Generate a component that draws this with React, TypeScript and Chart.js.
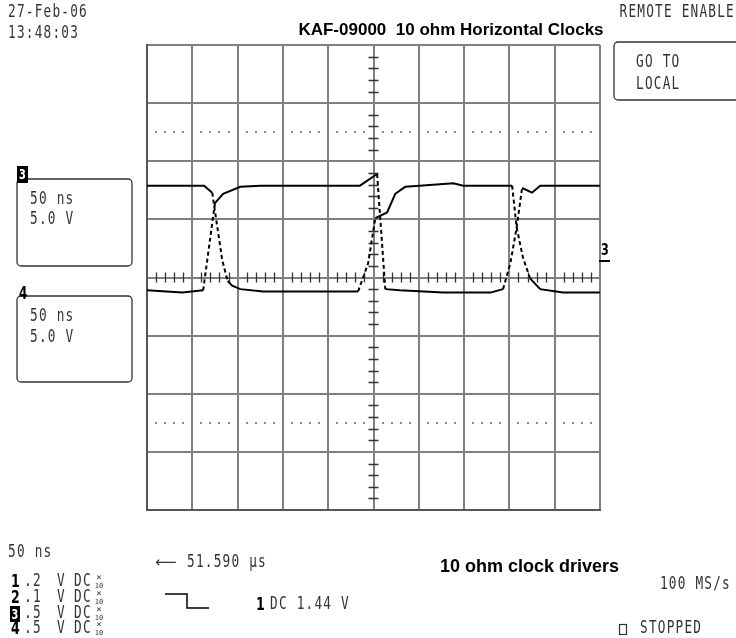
import React, { useEffect, useRef } from "react";
import { Chart, registerables } from "chart.js";

Chart.register(...registerables);

// Channel traces (time in ns relative to screen centre, volts at 5 V/div)
const ch3TimeNs = [-250, -211, -188, -175, -166, -147, -125, -15, 4, 13, 29, 77, 129, 143, 151, 158, 164, 175, 184, 250];
const ch3Volts = [-1.1, -1.3, -1.1, 6.4, 7.2, 7.8, 7.9, 7.9, 8.9, -1.0, -1.1, -1.3, -1.3, -1.0, 1.2, 4.3, 7.7, 7.3, 7.9, 7.9];

const ch4TimeNs = [-250, -187, -178, -167, -161, -156, -147, -122, -17, -6, 2, 15, 24, 35, 51, 88, 99, 153, 158, 165, 173, 184, 209, 250];
const ch4Volts = [7.9, 7.9, 7.3, 1.5, -0.3, -0.7, -1.0, -1.2, -1.2, 1.2, 5.1, 5.6, 7.2, 7.8, 7.9, 8.1, 7.9, 7.9, 4.3, 1.7, -0.1, -1.0, -1.3, -1.3];

const timeRangeNs = [-250, 250];
const timePerDivNs = 50;
const voltRange = [-20, 20];
const voltPerDiv = 5;
const dottedLevelsV = [12.5, -12.5];

const channelRows = [
  { ch: "1", scale: ".2", unit: "V", coupling: "DC" },
  { ch: "2", scale: ".1", unit: "V", coupling: "DC" },
  { ch: "3", scale: ".5", unit: "V", coupling: "DC" },
  { ch: "4", scale: ".5", unit: "V", coupling: "DC" },
];

const toPoints = (xs: number[], ys: number[]) => xs.map((x, i) => ({ x, y: ys[i] }));

function scopeText(ctx: CanvasRenderingContext2D, s: string, x: number, y: number, align: "left" | "right" = "left") {
  ctx.save();
  ctx.font = '17px "DejaVu Sans Mono"';
  (ctx as any).letterSpacing = "1.6px";
  ctx.fillStyle = "#333";
  ctx.textBaseline = "middle";
  ctx.textAlign = "left";
  const sx = 0.75;
  const w = ctx.measureText(s).width * sx;
  const x0 = align === "right" ? x - w : x;
  ctx.translate(x0, y);
  ctx.scale(sx, 1);
  ctx.fillText(s, 0, 0);
  ctx.restore();
}

function boldDigit(ctx: CanvasRenderingContext2D, s: string, x: number, y: number, size = 17) {
  ctx.save();
  ctx.font = `bold ${size}px "DejaVu Sans"`;
  ctx.fillStyle = "#000";
  ctx.textBaseline = "middle";
  ctx.translate(x, y);
  ctx.scale(0.7, 1);
  ctx.fillText(s, 0, 0);
  ctx.restore();
}

function invertedDigit(ctx: CanvasRenderingContext2D, s: string, x: number, y: number, w: number, h: number) {
  ctx.save();
  ctx.fillStyle = "#000";
  ctx.fillRect(x, y, w, h);
  ctx.font = 'bold 14px "DejaVu Sans"';
  ctx.fillStyle = "#fff";
  ctx.textBaseline = "middle";
  ctx.textAlign = "center";
  ctx.translate(x + w / 2, y + h / 2 + 1);
  ctx.scale(0.7, 1);
  ctx.fillText(s, 0, 0);
  ctx.restore();
}

function roundBox(ctx: CanvasRenderingContext2D, x: number, y: number, w: number, h: number) {
  ctx.save();
  ctx.strokeStyle = "#333";
  ctx.lineWidth = 1.3;
  ctx.beginPath();
  (ctx as any).roundRect(x, y, w, h, 4);
  ctx.stroke();
  ctx.restore();
}

function x10(ctx: CanvasRenderingContext2D, x: number, y: number) {
  ctx.save();
  ctx.fillStyle = "#333";
  ctx.textAlign = "center";
  ctx.textBaseline = "middle";
  ctx.font = '9px "DejaVu Sans Mono"';
  ctx.fillText("×", x, y - 4);
  ctx.font = '7px "DejaVu Sans Mono"';
  ctx.fillText("10", x, y + 4);
  ctx.restore();
}

const scopeOverlay = {
  id: "scopeOverlay",
  beforeDatasetsDraw(chart: any) {
    const ctx: CanvasRenderingContext2D = chart.ctx;
    const xs = chart.scales.x;
    const ys = chart.scales.y;
    const cx = xs.getPixelForValue(0);
    const cy = ys.getPixelForValue(0);
    const subX = timePerDivNs / 5;
    const subY = voltPerDiv / 5;
    ctx.save();
    ctx.fillStyle = "#8a8a8a";
    for (const lv of dottedLevelsV) {
      const py = ys.getPixelForValue(lv);
      for (let t = timeRangeNs[0]; t <= timeRangeNs[1]; t += subX) {
        if (Math.abs(t % timePerDivNs) < 1e-6) continue;
        const px = xs.getPixelForValue(t);
        ctx.fillRect(Math.round(px) - 1, Math.round(py) - 1, 2, 2);
      }
    }
    ctx.strokeStyle = "#333";
    ctx.lineWidth = 1.3;
    ctx.beginPath();
    for (let t = timeRangeNs[0]; t <= timeRangeNs[1]; t += subX) {
      if (Math.abs(t % timePerDivNs) < 1e-6) continue;
      const px = Math.round(xs.getPixelForValue(t)) + 0.5;
      ctx.moveTo(px, cy - 5);
      ctx.lineTo(px, cy + 5);
    }
    for (let v = voltRange[0]; v <= voltRange[1]; v += subY) {
      if (Math.abs(v % voltPerDiv) < 1e-6) continue;
      const py = Math.round(ys.getPixelForValue(v)) + 0.5;
      ctx.moveTo(cx - 5, py);
      ctx.lineTo(cx + 5, py);
    }
    ctx.stroke();
    ctx.restore();
  },
  afterDraw(chart: any) {
    const ctx: CanvasRenderingContext2D = chart.ctx;
    // header
    scopeText(ctx, "27-Feb-06", 8, 13);
    scopeText(ctx, "13:48:03", 8, 34);
    scopeText(ctx, "REMOTE ENABLE", 735, 13, "right");
    ctx.save();
    ctx.font = 'bold 17px "Liberation Sans"';
    ctx.fillStyle = "#000";
    ctx.textAlign = "center";
    ctx.textBaseline = "middle";
    ctx.fillText("KAF-09000  10 ohm Horizontal Clocks", 451, 30);
    ctx.restore();

    // GO TO LOCAL softkey
    roundBox(ctx, 614, 42, 140, 58);
    scopeText(ctx, "GO TO", 636, 63);
    scopeText(ctx, "LOCAL", 636, 85);

    // channel boxes
    roundBox(ctx, 17, 179, 115, 87);
    invertedDigit(ctx, "3", 17, 166, 11, 17);
    scopeText(ctx, "50 ns", 30, 200);
    scopeText(ctx, "5.0 V", 30, 220);

    roundBox(ctx, 17, 296, 115, 86);
    boldDigit(ctx, "4", 19, 295, 17);
    scopeText(ctx, "50 ns", 30, 317);
    scopeText(ctx, "5.0 V", 30, 338);

    // right side channel marker
    boldDigit(ctx, "3", 601, 251, 16);
    ctx.save();
    ctx.strokeStyle = "#000";
    ctx.lineWidth = 2;
    ctx.beginPath();
    ctx.moveTo(599, 261);
    ctx.lineTo(610, 261);
    ctx.stroke();
    ctx.restore();

    // footer
    scopeText(ctx, "50 ns", 8, 553);
    ctx.save();
    ctx.font = '15px "DejaVu Sans"';
    ctx.fillStyle = "#333";
    ctx.textBaseline = "middle";
    ctx.fillText("⟵", 155, 563);
    ctx.restore();
    scopeText(ctx, "51.590 µs", 187, 563);
    ctx.save();
    ctx.font = 'bold 18px "Liberation Sans"';
    ctx.fillStyle = "#000";
    ctx.textBaseline = "middle";
    ctx.fillText("10 ohm clock drivers", 440, 567);
    ctx.restore();
    scopeText(ctx, "100 MS/s", 731, 585, "right");

    const rowY = [582, 598, 614, 629];
    channelRows.forEach((r, i) => {
      const y = rowY[i];
      if (r.ch === "3") invertedDigit(ctx, r.ch, 10, y - 8, 10, 16);
      else boldDigit(ctx, r.ch, 11, y, 18);
      scopeText(ctx, r.scale, 24, y);
      scopeText(ctx, r.unit, 57, y);
      scopeText(ctx, r.coupling, 74, y);
      x10(ctx, 99, y);
    });

    // trigger symbol
    ctx.save();
    ctx.strokeStyle = "#000";
    ctx.lineWidth = 1.5;
    ctx.beginPath();
    ctx.moveTo(165, 594);
    ctx.lineTo(187, 594);
    ctx.lineTo(187, 608);
    ctx.lineTo(209, 608);
    ctx.stroke();
    ctx.restore();
    boldDigit(ctx, "1", 256, 605, 18);
    scopeText(ctx, "DC 1.44 V", 270, 605);

    // stopped indicator
    ctx.save();
    ctx.strokeStyle = "#333";
    ctx.lineWidth = 1.2;
    ctx.strokeRect(619.5, 624.5, 7, 10);
    ctx.restore();
    scopeText(ctx, "STOPPED", 640, 629);
  },
};

export default function App() {
  const ref = useRef<HTMLCanvasElement>(null);
  useEffect(() => {
    if (!ref.current) return;
    const steep = (c: any) => {
      const dx = Math.abs(c.p1.x - c.p0.x);
      const dy = Math.abs(c.p1.y - c.p0.y);
      return dy > 15 && dy > 2.6 * dx ? [4, 3] : undefined;
    };
    const chart = new Chart(ref.current, {
      type: "line",
      data: {
        datasets: [
          {
            label: "Channel 3",
            data: toPoints(ch3TimeNs, ch3Volts),
            borderColor: "#000",
            borderWidth: 2,
            pointRadius: 0,
            tension: 0,
            segment: { borderDash: steep },
          },
          {
            label: "Channel 4",
            data: toPoints(ch4TimeNs, ch4Volts),
            borderColor: "#000",
            borderWidth: 2,
            pointRadius: 0,
            tension: 0,
            segment: { borderDash: steep },
          },
        ],
      },
      options: {
        animation: false,
        responsive: false,
        devicePixelRatio: 1,
        layout: { padding: { left: 147, top: 45, right: 136, bottom: 128 } },
        plugins: { legend: { display: false }, tooltip: { enabled: false }, title: { display: false } },
        scales: {
          x: {
            type: "linear",
            min: timeRangeNs[0],
            max: timeRangeNs[1],
            ticks: { stepSize: timePerDivNs, display: false },
            grid: { color: "#808080", lineWidth: 2, drawTicks: false },
            border: { display: true, color: "#555", width: 2 },
          },
          y: {
            type: "linear",
            min: voltRange[0],
            max: voltRange[1],
            ticks: { stepSize: voltPerDiv, display: false },
            grid: { color: "#808080", lineWidth: 2, drawTicks: false },
            border: { display: true, color: "#555", width: 2 },
          },
        },
      },
      plugins: [scopeOverlay],
    });
    return () => chart.destroy();
  }, []);
  return (
    <div style={{ position: "fixed", left: 0, top: 0, width: 736, height: 638, background: "#fff" }}>
      <canvas ref={ref} width={736} height={638} style={{ display: "block" }} />
    </div>
  );
}
